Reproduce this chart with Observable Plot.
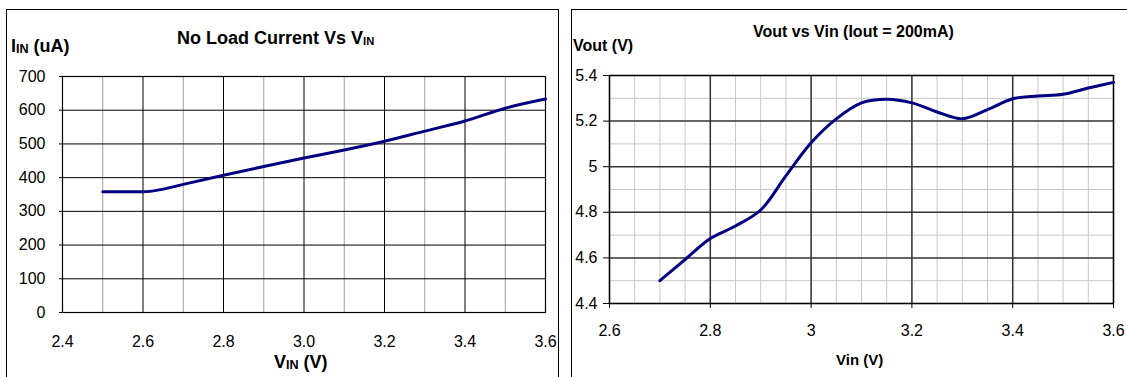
<!DOCTYPE html>
<html>
<head>
<meta charset="utf-8">
<script src="https://cdn.jsdelivr.net/npm/d3@7"></script>
<script src="https://cdn.jsdelivr.net/npm/@observablehq/plot@0.6"></script>
<style>
  html, body { margin: 0; padding: 0; background: #fff; }
  #root { position: relative; width: 1127px; height: 377px; overflow: hidden; font-family: "Liberation Sans", Arial, sans-serif; color: #000; }
  .box { position: absolute; border: 1.5px solid #000; box-sizing: border-box; }
  .chart { position: absolute; top: 0; }
  .txt { position: absolute; font-weight: bold; white-space: nowrap; line-height: 1; }
  .sub { font-size: 0.7em; vertical-align: -0.1em; }
</style>
</head>
<body>
<div id="root">
  <div class="box" style="left:6px; top:9px; width:553px; height:420px;"></div>
  <div class="box" style="left:571px; top:9px; width:600px; height:420px;"></div>
  <div id="c1" class="chart" style="left:0px;"></div>
  <div id="c2" class="chart" style="left:560px;"></div>
  <div class="txt" style="left:177px; top:29px; font-size:18px;">No Load Current Vs V<span class="sub" style="font-size:0.62em">IN</span></div>
  <div class="txt" style="left:11px; top:37px; font-size:18px;">I<span class="sub">IN</span> (uA)</div>
  <div class="txt" style="left:274px; top:353px; font-size:18px;">V<span class="sub">IN</span> (V)</div>
  <div class="txt" style="left:753px; top:24px; font-size:16px;">Vout vs Vin (Iout = 200mA)</div>
  <div class="txt" style="left:573px; top:38px; font-size:16px;">Vout (V)</div>
  <div class="txt" style="left:836px; top:352px; font-size:15px;">Vin (V)</div>
</div>
<script>
// ---- Chart 1: No Load Current vs VIN ----
const vinA = [2.5, 2.6, 2.65, 2.7, 2.8, 2.9, 3.0, 3.1, 3.2, 3.3, 3.4, 3.5, 3.6];
const iinA = [358, 358, 366, 380, 407, 433, 458, 482, 508, 538, 568, 606, 633];
const xTicksA = [2.4, 2.6, 2.8, 3.0, 3.2, 3.4, 3.6];
const xMinorA = [2.5, 2.7, 2.9, 3.1, 3.3, 3.5];
const yTicksA = [0, 100, 200, 300, 400, 500, 600, 700];

// ---- Chart 2: Vout vs Vin (Iout = 200mA) ----
const vinB = [2.7, 2.75, 2.8, 2.85, 2.9, 2.95, 3.0, 3.05, 3.1, 3.15, 3.2, 3.25, 3.3, 3.35, 3.4, 3.45, 3.5, 3.55, 3.6];
const voutB = [4.50, 4.593, 4.685, 4.74, 4.81, 4.96, 5.105, 5.21, 5.28, 5.296, 5.28, 5.24, 5.21, 5.25, 5.298, 5.31, 5.318, 5.345, 5.37];
const xTicksB = [2.6, 2.8, 3.0, 3.2, 3.4, 3.6];
const xMinorB = d3.range(0, 21).map(i => +(2.6 + i * 0.05).toFixed(2));
const yTicksB = [4.4, 4.6, 4.8, 5.0, 5.2, 5.4];
const yMinorB = [4.5, 4.7, 4.9, 5.1, 5.3];

const dataA = vinA.map((v, i) => ({x: v, y: iinA[i]}));
const dataB = vinB.map((v, i) => ({x: v, y: voutB[i]}));
const font = '"Liberation Sans", Arial, sans-serif';

const p1 = Plot.plot({
  width: 560, height: 377,
  marginLeft: 62, marginRight: 15, marginTop: 76, marginBottom: 65,
  style: {fontFamily: font, color: "#000", background: "transparent", overflow: "visible"},
  x: {domain: [2.4, 3.6]},
  y: {domain: [0, 700]},
  marks: [
    Plot.ruleX(xMinorA, {stroke: "#a0a0a0", strokeWidth: 1}),
    Plot.ruleX(xTicksA, {stroke: "#000", strokeWidth: 1}),
    Plot.ruleY(yTicksA, {stroke: "#000", strokeWidth: 1}),
    Plot.frame({stroke: "#000", strokeWidth: 1.2}),
    Plot.line(dataA, {x: "x", y: "y", stroke: "#000080", strokeWidth: 3, curve: "monotone-x"}),
    Plot.axisY({ticks: yTicksA, tickSize: 3, tickPadding: 14, fontSize: 16, label: null, tickFormat: d => String(d)}),
    Plot.axisX({ticks: xTicksA, tickSize: 0, tickPadding: 23, fontSize: 16, label: null, tickFormat: d => d.toFixed(1)})
  ]
});
document.getElementById("c1").appendChild(p1);

const p2 = Plot.plot({
  width: 567, height: 377,
  marginLeft: 49, marginRight: 14, marginTop: 75, marginBottom: 74,
  style: {fontFamily: font, color: "#000", background: "transparent", overflow: "visible"},
  x: {domain: [2.6, 3.6]},
  y: {domain: [4.4, 5.4]},
  marks: [
    Plot.ruleX(xMinorB, {stroke: "#c8c8c8", strokeWidth: 1}),
    Plot.ruleY(yMinorB, {stroke: "#c8c8c8", strokeWidth: 1}),
    Plot.ruleX(xTicksB, {stroke: "#333", strokeWidth: 1.5}),
    Plot.ruleY(yTicksB, {stroke: "#333", strokeWidth: 1.5}),
    Plot.frame({stroke: "#000", strokeWidth: 1.2}),
    Plot.line(dataB, {x: "x", y: "y", stroke: "#000080", strokeWidth: 3, curve: "catmull-rom"}),
    Plot.axisY({ticks: yTicksB, tickSize: 6, tickPadding: 6, fontSize: 16, label: null, tickFormat: d => String(+d.toFixed(1))}),
    Plot.axisX({ticks: xTicksB, tickSize: 5, tickPadding: 16, fontSize: 16, label: null, tickFormat: d => String(+d.toFixed(1))})
  ]
});
document.getElementById("c2").appendChild(p2);
</script>
</body>
</html>
